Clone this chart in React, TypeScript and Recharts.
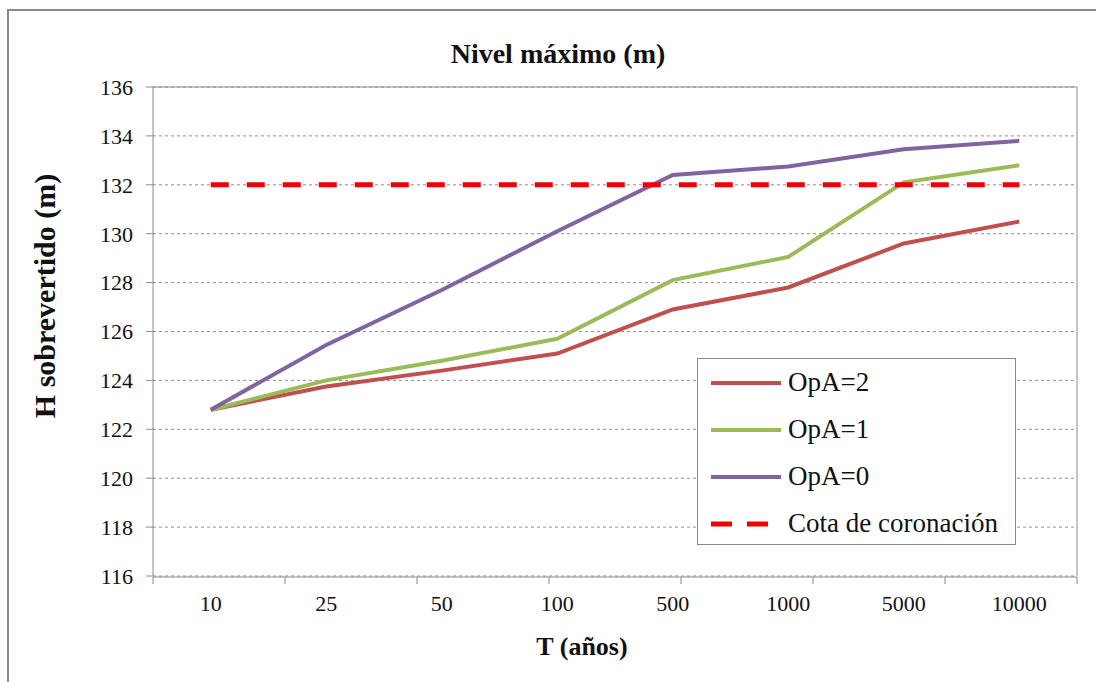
import {
  CartesianGrid,
  Legend,
  Line,
  LineChart,
  XAxis,
  YAxis,
} from "recharts";

const periods = ["10", "25", "50", "100", "500", "1000", "5000", "10000"];
const opA2 = [122.8, 123.75, 124.4, 125.1, 126.9, 127.8, 129.6, 130.5];
const opA1 = [122.8, 124.0, 124.8, 125.7, 128.1, 129.05, 132.1, 132.8];
const opA0 = [122.8, 125.45, 127.7, 130.1, 132.4, 132.75, 133.45, 133.8];
const cota = [132, 132, 132, 132, 132, 132, 132, 132];
const yTicks = [116, 118, 120, 122, 124, 126, 128, 130, 132, 134, 136];
const edgeTicks = [0, 1, 2, 3, 4, 5, 6, 7, 8];

const SERIES = [
  { key: "opA2", label: "OpA=2", color: "#C0504D", dashed: false },
  { key: "opA1", label: "OpA=1", color: "#9BBB59", dashed: false },
  { key: "opA0", label: "OpA=0", color: "#8064A2", dashed: false },
  { key: "cota", label: "Cota de coronación", color: "#F00000", dashed: true },
] as const;

const FONT = '"Liberation Serif"';
const GRAY = "#8a8a8a";

const data = periods.map((t, i) => ({
  t,
  opA2: opA2[i],
  opA1: opA1[i],
  opA0: opA0[i],
  cota: cota[i],
}));

// Excel-style boxed legend, one row per series
function LegendBox() {
  return (
    <div
      style={{
        width: 319,
        height: 187,
        border: `1.5px solid ${GRAY}`,
        background: "#fff",
        boxSizing: "border-box",
        textAlign: "left",
      }}
    >
      {SERIES.map((s) => (
        <div
          key={s.key}
          style={{
            display: "flex",
            alignItems: "center",
            height: 47,
            fontFamily: FONT,
            fontSize: 27,
            color: "#111",
          }}
        >
          <svg width={90} height={12} style={{ flex: "none" }}>
            <line
              x1={13}
              x2={s.dashed ? 70 : 83}
              y1={6}
              y2={6}
              stroke={s.color}
              strokeWidth={s.dashed ? 5 : 4}
              strokeDasharray={s.dashed ? "21 15" : undefined}
            />
          </svg>
          <span style={{ whiteSpace: "nowrap" }}>{s.label}</span>
        </div>
      ))}
    </div>
  );
}

export default function App() {
  return (
    <div
      style={{
        position: "relative",
        width: 1096,
        height: 682,
        overflow: "hidden",
        background: "#fff",
        fontFamily: FONT,
      }}
    >
      <style>{`body{margin:0}`}</style>
      <div
        style={{
          position: "absolute",
          left: 7,
          top: 9,
          width: 1200,
          height: 800,
          border: `2px solid ${GRAY}`,
        }}
      />
      <div
        style={{
          position: "absolute",
          left: 0,
          width: 1116,
          top: 38,
          textAlign: "center",
          fontWeight: "bold",
          fontSize: 28,
          color: "#111",
        }}
      >
        Nivel máximo (m)
      </div>
      <div
        style={{
          position: "absolute",
          left: 0,
          width: 1164,
          top: 632,
          textAlign: "center",
          fontWeight: "bold",
          fontSize: 26,
          color: "#111",
        }}
      >
        T (años)
      </div>
      <div
        style={{
          position: "absolute",
          left: 45,
          top: 296,
          transform: "translate(-50%, -50%) rotate(-90deg)",
          whiteSpace: "nowrap",
          fontWeight: "bold",
          fontSize: 30,
          color: "#111",
        }}
      >
        H sobrevertido (m)
      </div>
      <div style={{ position: "absolute", left: 0, top: 0 }}>
        <LineChart
          width={1096}
          height={682}
          data={data}
          margin={{ top: 86, right: 18, bottom: 104, left: 93 }}
        >
          <CartesianGrid
            vertical={false}
            horizontal
            stroke="#8f8f8f"
            strokeDasharray="3 3"
          />
          {/* tick marks sit between categories, like Excel */}
          <XAxis
            xAxisId="edge"
            type="number"
            domain={[0, 8]}
            ticks={edgeTicks}
            allowDataOverflow
            height={1}
            tick={() => <g />}
            tickSize={7}
            stroke={GRAY}
          />
          <XAxis
            dataKey="t"
            scale="band"
            height={1}
            axisLine={false}
            tickLine={false}
            tickSize={7}
            tickMargin={12}
            interval={0}
            tick={{ fill: "#111", fontSize: 22, fontFamily: FONT }}
          />
          <XAxis
            xAxisId="top"
            orientation="top"
            dataKey="t"
            height={1}
            tick={false}
            tickLine={false}
            stroke={GRAY}
          />
          <YAxis
            width={60}
            domain={[116, 136]}
            ticks={yTicks}
            interval={0}
            tickSize={7}
            tickMargin={13}
            stroke={GRAY}
            tick={{ fill: "#111", fontSize: 22, fontFamily: FONT }}
          />
          <YAxis
            yAxisId="right"
            orientation="right"
            width={1}
            domain={[116, 136]}
            tick={false}
            tickLine={false}
            stroke={GRAY}
          />
          {SERIES.map((s) => (
            <Line
              key={s.key}
              type="linear"
              dataKey={s.key}
              name={s.label}
              stroke={s.color}
              strokeWidth={s.dashed ? 5 : 4}
              strokeDasharray={s.dashed ? "18 18" : undefined}
              dot={false}
              activeDot={false}
              isAnimationActive={false}
            />
          ))}
          <Legend
            layout="vertical"
            align="center"
            verticalAlign="middle"
            wrapperStyle={{ position: "absolute", left: 697, top: 358, width: 319 }}
            content={() => <LegendBox />}
          />
        </LineChart>
      </div>
    </div>
  );
}
